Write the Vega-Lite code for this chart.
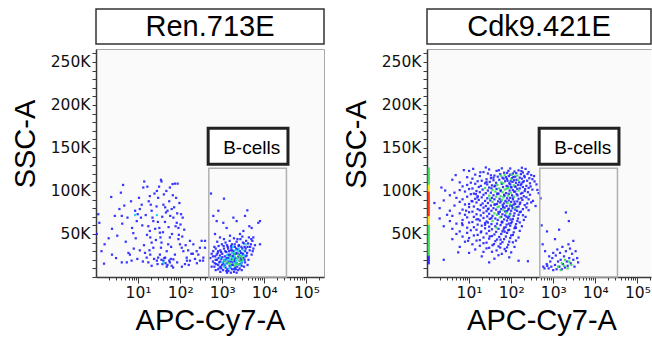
{
"$schema":"https://vega.github.io/schema/vega-lite/v6.json",
"padding":{"left":10,"top":8,"right":0,"bottom":0},
"background":"white",
"config":{"view":{"stroke":null},"axis":{"domainColor":"#3a3a3a","domainWidth":1.5,"tickColor":"#3a3a3a","tickWidth":1,"labelFont":"DejaVu Sans","labelFontSize":15.5,"labelColor":"#111111","titleFont":"Liberation Sans","titleFontSize":29,"titleFontWeight":"normal","titleColor":"#000000","grid":false,"labelOverlap":false,"labelFlush":false,"labelBound":false}},
"datasets":{
"gate":[{"x":480,"x2":33600,"y":0,"y2":126500}],
"gatebox":[{"x":463,"x2":36500,"y":131000,"y2":173000}],
"gatelabel":[{"x":5000,"y":150500,"label":"B-cells"}],
"ren":[
{"x":1.04,"y":50000,"d":0},{"x":1.13,"y":73000,"d":0},{"x":1.2,"y":63000,"d":0},{"x":2.3,"y":93000,"d":0},{"x":2.4,"y":56000,"d":0},{"x":2.4,"y":26000,"d":0},{"x":1.55,"y":15500,"d":0},{"x":3.6,"y":79000,"d":0},{"x":4.1,"y":71000,"d":0},{"x":4.2,"y":62000,"d":0},{"x":4.4,"y":107000,"d":0},{"x":5.1,"y":41000,"d":0},{"x":5.9,"y":28000,"d":0},{"x":6.4,"y":26000,"d":0},{"x":4.1,"y":17000,"d":0},{"x":5.4,"y":17000,"d":0},{"x":7.7,"y":51000,"d":0},{"x":8.5,"y":77000,"d":0},{"x":9.3,"y":65000,"d":0},{"x":9.8,"y":73000,"d":0},{"x":11,"y":79000,"d":0},{"x":11.7,"y":69000,"d":0},{"x":12.2,"y":84000,"d":0},{"x":13.3,"y":104000,"d":0},{"x":14,"y":111000,"d":0},{"x":16.6,"y":105000,"d":0},{"x":19,"y":94000,"d":0},{"x":20,"y":84000,"d":0},{"x":21,"y":77000,"d":0},{"x":22,"y":69000,"d":0},{"x":23,"y":65000,"d":0},{"x":17.5,"y":59000,"d":0},{"x":19,"y":53500,"d":0},{"x":19.5,"y":46000,"d":0},{"x":21,"y":40000,"d":0},{"x":23,"y":34000,"d":0},{"x":14.6,"y":28000,"d":0},{"x":16,"y":22500,"d":0},{"x":17.5,"y":17000,"d":0},{"x":21,"y":13000,"d":0},{"x":28,"y":19000,"d":0},{"x":30,"y":22500,"d":0},{"x":33,"y":26000,"d":0},{"x":35,"y":34000,"d":0},{"x":36,"y":40000,"d":0},{"x":34,"y":46000,"d":0},{"x":33,"y":51500,"d":0},{"x":32,"y":57000,"d":0},{"x":35,"y":113000,"d":0},{"x":36,"y":111000,"d":0},{"x":28,"y":100000,"d":0},{"x":30,"y":92000,"d":0},{"x":40,"y":84000,"d":0},{"x":44,"y":81000,"d":0},{"x":46,"y":75000,"d":0},{"x":50,"y":77000,"d":0},{"x":57,"y":104000,"d":0},{"x":66,"y":108000,"d":0},{"x":75,"y":108500,"d":0},{"x":87,"y":108500,"d":0},{"x":80,"y":92000,"d":0},{"x":63,"y":79000,"d":0},{"x":69,"y":69000,"d":0},{"x":83,"y":63000,"d":0},{"x":91,"y":57000,"d":0},{"x":105,"y":73000,"d":0},{"x":115,"y":69000,"d":0},{"x":91,"y":44000,"d":0},{"x":99,"y":38000,"d":0},{"x":109,"y":34000,"d":0},{"x":119,"y":30000,"d":0},{"x":75,"y":26000,"d":0},{"x":69,"y":20500,"d":0},{"x":57,"y":17000,"d":0},{"x":63,"y":13000,"d":0},{"x":44,"y":22500,"d":0},{"x":40,"y":19000,"d":0},{"x":48,"y":30000,"d":0},{"x":52,"y":38000,"d":0},{"x":57,"y":46000,"d":0},{"x":171,"y":42000,"d":0},{"x":206,"y":38000,"d":0},{"x":247,"y":30000,"d":0},{"x":270,"y":26000,"d":0},{"x":296,"y":19000,"d":0},{"x":356,"y":22500,"d":0},{"x":389,"y":34000,"d":0},{"x":324,"y":42000,"d":0},{"x":143,"y":22500,"d":0},{"x":171,"y":19000,"d":0},{"x":130,"y":15000,"d":0},{"x":45,"y":16000,"d":0},{"x":36,"y":20000,"d":0},{"x":50,"y":14000,"d":0},{"x":42,"y":22000,"d":0},{"x":55,"y":19000,"d":0},{"x":38,"y":15000,"d":0},{"x":48,"y":12000,"d":0},{"x":60,"y":21000,"d":0},{"x":200,"y":27000,"d":0},{"x":295,"y":34000,"d":0},{"x":350,"y":19000,"d":0},{"x":145,"y":19000,"d":0},{"x":250,"y":16000,"d":0},{"x":390,"y":42000,"d":0},{"x":8.5,"y":72000,"d":1},{"x":28,"y":72000,"d":1},{"x":40,"y":17000,"d":1},
{"x":1.6,"y":38000,"d":0},{"x":2.8,"y":71000,"d":0},{"x":3.2,"y":48000,"d":0},{"x":3.9,"y":98000,"d":0},{"x":4.7,"y":83000,"d":0},{"x":5.6,"y":69000,"d":0},{"x":6.8,"y":88000,"d":0},{"x":7.2,"y":57000,"d":0},{"x":7.9,"y":33000,"d":0},{"x":8.8,"y":45000,"d":0},{"x":9.6,"y":21000,"d":0},{"x":10.5,"y":92000,"d":0},{"x":12.6,"y":60000,"d":0},{"x":13.8,"y":37000,"d":0},{"x":15.2,"y":72000,"d":0},{"x":16.3,"y":49000,"d":0},{"x":17.9,"y":88000,"d":0},{"x":18.7,"y":31000,"d":0},{"x":24.5,"y":97000,"d":0},{"x":25.5,"y":56000,"d":0},{"x":26.5,"y":43000,"d":0},{"x":27.5,"y":82000,"d":0},{"x":29.5,"y":64000,"d":0},{"x":31.5,"y":105000,"d":0},{"x":37.5,"y":70000,"d":0},{"x":39,"y":52000,"d":0},{"x":41,"y":96000,"d":0},{"x":43.5,"y":64000,"d":0},{"x":47,"y":100000,"d":0},{"x":53,"y":58000,"d":0},{"x":55,"y":88000,"d":0},{"x":58,"y":71000,"d":0},{"x":61,"y":35000,"d":0},{"x":64,"y":50000,"d":0},{"x":67,"y":95000,"d":0},{"x":72,"y":81000,"d":0},{"x":78,"y":59000,"d":0},{"x":85,"y":74000,"d":0},{"x":93,"y":49000,"d":0},{"x":96,"y":86000,"d":0},{"x":102,"y":61000,"d":0},{"x":112,"y":47000,"d":0},{"x":125,"y":55000,"d":0},{"x":135,"y":37000,"d":0},{"x":155,"y":31000,"d":0},{"x":185,"y":27000,"d":0},{"x":225,"y":21000,"d":0},{"x":160,"y":14000,"d":0},{"x":110,"y":12000,"d":0},{"x":85,"y":17000,"d":0},{"x":68,"y":11000,"d":0},{"x":29,"y":15000,"d":0},{"x":24,"y":21000,"d":0},{"x":19.5,"y":26000,"d":0},{"x":13,"y":18000,"d":0},{"x":11,"y":31000,"d":0},{"x":7,"y":19000,"d":0},{"x":3,"y":22000,"d":0},{"x":2,"y":45000,"d":0},{"x":1.35,"y":30000,"d":0},
{"x":541,"y":97000,"d":0},{"x":1100,"y":91000,"d":0},{"x":614,"y":71000,"d":0},{"x":738,"y":65000,"d":0},{"x":808,"y":77000,"d":0},{"x":1060,"y":63000,"d":0},{"x":1270,"y":57000,"d":0},{"x":1840,"y":69000,"d":0},{"x":2200,"y":65000,"d":0},{"x":3480,"y":71000,"d":0},{"x":3950,"y":77500,"d":0},{"x":4400,"y":59000,"d":0},{"x":5000,"y":57000,"d":0},{"x":5480,"y":46000,"d":0},{"x":7200,"y":63000,"d":0},{"x":7900,"y":65000,"d":0},{"x":7900,"y":38000,"d":0},{"x":3180,"y":53500,"d":0},{"x":2640,"y":50000,"d":0},{"x":673,"y":50000,"d":0},{"x":885,"y":46000,"d":0},{"x":1530,"y":48000,"d":0},
{"x":520,"y":22000,"d":0},{"x":560,"y":27000,"d":0},{"x":600,"y":18000,"d":0},{"x":610,"y":30000,"d":0},{"x":650,"y":12000,"d":0},{"x":680,"y":24000,"d":0},{"x":700,"y":33000,"d":0},{"x":720,"y":15000,"d":0},{"x":750,"y":20000,"d":0},{"x":780,"y":28000,"d":0},{"x":800,"y":9000,"d":0},{"x":820,"y":36000,"d":0},{"x":850,"y":17000,"d":0},{"x":880,"y":25000,"d":0},{"x":900,"y":31000,"d":0},{"x":920,"y":12000,"d":0},{"x":950,"y":21000,"d":0},{"x":980,"y":38000,"d":0},{"x":1000,"y":14000,"d":0},{"x":1000,"y":27000,"d":0},{"x":1050,"y":8000,"d":0},{"x":1100,"y":33000,"d":0},{"x":1100,"y":19000,"d":0},{"x":1150,"y":24000,"d":0},{"x":1200,"y":11000,"d":0},{"x":1200,"y":40000,"d":0},{"x":1250,"y":29000,"d":0},{"x":1300,"y":16000,"d":0},{"x":1350,"y":35000,"d":0},{"x":1400,"y":7000,"d":0},{"x":1400,"y":22000,"d":0},{"x":1450,"y":30000,"d":0},{"x":1500,"y":13000,"d":0},{"x":1500,"y":42000,"d":0},{"x":1550,"y":26000,"d":0},{"x":1600,"y":18000,"d":0},{"x":1650,"y":34000,"d":0},{"x":1700,"y":9000,"d":0},{"x":1700,"y":38000,"d":0},{"x":1750,"y":24000,"d":0},{"x":1800,"y":14000,"d":0},{"x":1850,"y":30000,"d":0},{"x":1900,"y":45000,"d":0},{"x":1950,"y":20000,"d":0},{"x":2000,"y":11000,"d":0},{"x":2000,"y":35000,"d":0},{"x":2100,"y":27000,"d":0},{"x":2200,"y":16000,"d":0},{"x":2200,"y":41000,"d":0},{"x":2300,"y":32000,"d":0},{"x":2400,"y":8000,"d":0},{"x":2400,"y":23000,"d":0},{"x":2500,"y":37000,"d":0},{"x":2600,"y":19000,"d":0},{"x":2700,"y":44000,"d":0},{"x":2800,"y":28000,"d":0},{"x":2900,"y":13000,"d":0},{"x":3000,"y":33000,"d":0},{"x":3000,"y":47000,"d":0},{"x":3200,"y":22000,"d":0},{"x":3300,"y":39000,"d":0},{"x":3500,"y":17000,"d":0},{"x":3500,"y":30000,"d":0},{"x":3700,"y":42000,"d":0},{"x":3800,"y":25000,"d":0},{"x":4000,"y":35000,"d":0},{"x":4200,"y":20000,"d":0},{"x":4300,"y":46000,"d":0},{"x":4500,"y":31000,"d":0},{"x":4800,"y":38000,"d":0},{"x":5000,"y":26000,"d":0},{"x":5200,"y":42000,"d":0},{"x":5500,"y":33000,"d":0},{"x":6000,"y":37000,"d":0},{"x":650,"y":35000,"d":0},{"x":900,"y":6000,"d":0},{"x":1300,"y":5000,"d":0},{"x":1900,"y":6000,"d":0},{"x":2600,"y":10000,"d":0},{"x":3300,"y":12000,"d":0},{"x":4000,"y":14000,"d":0},{"x":1100,"y":44000,"d":0},{"x":760,"y":41000,"d":0},{"x":560,"y":12000,"d":0},{"x":700,"y":8000,"d":0},
{"x":1200,"y":20000,"d":0},{"x":1400,"y":26000,"d":0},{"x":1600,"y":31000,"d":0},{"x":1800,"y":24000,"d":0},{"x":2000,"y":18000,"d":0},{"x":2200,"y":28000,"d":0},{"x":2500,"y":26000,"d":0},{"x":2800,"y":20000,"d":0},{"x":3100,"y":27000,"d":0},{"x":3400,"y":35000,"d":0},{"x":900,"y":18000,"d":0},{"x":1000,"y":23000,"d":0},{"x":800,"y":14000,"d":0},{"x":1700,"y":14000,"d":0},{"x":2100,"y":9000,"d":0},{"x":2700,"y":15000,"d":0},{"x":3600,"y":24000,"d":0},{"x":1300,"y":37000,"d":0},{"x":2300,"y":44000,"d":0},
{"x":600,"y":24000,"d":0},{"x":660,"y":16000,"d":0},{"x":740,"y":26000,"d":0},{"x":820,"y":22000,"d":0},{"x":870,"y":11000,"d":0},{"x":940,"y":29000,"d":0},{"x":1050,"y":16000,"d":0},{"x":1080,"y":36000,"d":0},{"x":1150,"y":14000,"d":0},{"x":1180,"y":30000,"d":0},{"x":1280,"y":22000,"d":0},{"x":1320,"y":9000,"d":0},{"x":1380,"y":33000,"d":0},{"x":1420,"y":18000,"d":0},{"x":1480,"y":25000,"d":0},{"x":1560,"y":11000,"d":0},{"x":1620,"y":36000,"d":0},{"x":1680,"y":21000,"d":0},{"x":1720,"y":31000,"d":0},{"x":1780,"y":17000,"d":0},{"x":1880,"y":27000,"d":0},{"x":1920,"y":9000,"d":0},{"x":1980,"y":38000,"d":0},{"x":2050,"y":22000,"d":0},{"x":2150,"y":33000,"d":0},{"x":2250,"y":12000,"d":0},{"x":2350,"y":27000,"d":0},{"x":2450,"y":36000,"d":0},{"x":2550,"y":14000,"d":0},{"x":2650,"y":30000,"d":0},{"x":2750,"y":22000,"d":0},{"x":2850,"y":35000,"d":0},{"x":2950,"y":17000,"d":0},{"x":3100,"y":40000,"d":0},{"x":3150,"y":26000,"d":0},{"x":3400,"y":20000,"d":0},{"x":3600,"y":33000,"d":0},{"x":3900,"y":28000,"d":0},{"x":4100,"y":39000,"d":0},{"x":4600,"y":35000,"d":0},{"x":4900,"y":44000,"d":0},{"x":5300,"y":30000,"d":0},{"x":1250,"y":7000,"d":0},{"x":1600,"y":5000,"d":0},{"x":2200,"y":5000,"d":0},{"x":2900,"y":8000,"d":0},{"x":800,"y":30000,"d":0},{"x":700,"y":20000,"d":0},{"x":950,"y":10000,"d":0},
{"x":1000,"y":17000,"d":1},{"x":1200,"y":15000,"d":1},{"x":1300,"y":25000,"d":1},{"x":1500,"y":20000,"d":1},{"x":1600,"y":12000,"d":1},{"x":1700,"y":28000,"d":1},{"x":1900,"y":16000,"d":1},{"x":2000,"y":24000,"d":1},{"x":2200,"y":20000,"d":1},{"x":2400,"y":30000,"d":1},{"x":2600,"y":14000,"d":1},{"x":2800,"y":25000,"d":1},{"x":3000,"y":18000,"d":1},{"x":900,"y":22000,"d":1},{"x":1100,"y":12000,"d":1},{"x":2500,"y":33000,"d":1},{"x":3200,"y":31000,"d":1},{"x":1800,"y":35000,"d":1},{"x":3600,"y":38000,"d":1},{"x":1350,"y":20000,"d":1},{"x":1750,"y":22000,"d":1},{"x":2150,"y":18000,"d":1},{"x":2750,"y":17000,"d":1},{"x":1100,"y":20000,"d":1},{"x":1450,"y":10000,"d":1},{"x":3300,"y":25000,"d":1},{"x":2050,"y":31000,"d":1},
{"x":1400,"y":16000,"d":2},{"x":1800,"y":20000,"d":2},{"x":2100,"y":15000,"d":2},{"x":2300,"y":22000,"d":2},{"x":2600,"y":19000,"d":2},{"x":1600,"y":24000,"d":2},{"x":2000,"y":13000,"d":2},{"x":2900,"y":23000,"d":2},{"x":1200,"y":18000,"d":2},{"x":2400,"y":26000,"d":2},{"x":3100,"y":20000,"d":2},{"x":1550,"y":15000,"d":2},{"x":1950,"y":27000,"d":2},{"x":2350,"y":15000,"d":2},{"x":2650,"y":24000,"d":2}
],
"cdk":[
{"x":1.1,"y":126000,"d":2},{"x":1.1,"y":124000,"d":2},{"x":1.1,"y":122000,"d":2},{"x":1.1,"y":120000,"d":2},{"x":1.1,"y":118000,"d":2},{"x":1.1,"y":116000,"d":2},{"x":1.1,"y":114000,"d":2},{"x":1.1,"y":112000,"d":2},{"x":1.1,"y":110000,"d":2},{"x":1.1,"y":108000,"d":2},{"x":1.1,"y":106000,"d":3},{"x":1.1,"y":104000,"d":3},{"x":1.1,"y":102000,"d":3},{"x":1.1,"y":100000,"d":3},{"x":1.1,"y":98000,"d":4},{"x":1.1,"y":96000,"d":4},{"x":1.1,"y":94000,"d":4},{"x":1.1,"y":92000,"d":4},{"x":1.1,"y":90000,"d":4},{"x":1.1,"y":88000,"d":4},{"x":1.1,"y":86000,"d":4},{"x":1.1,"y":84000,"d":4},{"x":1.1,"y":82000,"d":4},{"x":1.1,"y":80000,"d":4},{"x":1.1,"y":78000,"d":4},{"x":1.1,"y":76000,"d":4},{"x":1.1,"y":74000,"d":4},{"x":1.1,"y":72000,"d":4},{"x":1.1,"y":70000,"d":3},{"x":1.1,"y":68000,"d":3},{"x":1.1,"y":66000,"d":3},{"x":1.1,"y":64000,"d":3},{"x":1.1,"y":62000,"d":3},{"x":1.1,"y":60000,"d":2},{"x":1.1,"y":58000,"d":2},{"x":1.1,"y":56000,"d":2},{"x":1.1,"y":54000,"d":2},{"x":1.1,"y":52000,"d":2},{"x":1.1,"y":50000,"d":2},{"x":1.1,"y":48000,"d":2},{"x":1.1,"y":46000,"d":2},{"x":1.1,"y":44000,"d":2},{"x":1.1,"y":42000,"d":2},{"x":1.1,"y":40000,"d":2},{"x":1.1,"y":38000,"d":2},{"x":1.1,"y":36000,"d":2},{"x":1.1,"y":34000,"d":2},{"x":1.1,"y":32000,"d":2},{"x":1.1,"y":30000,"d":2},{"x":1.1,"y":28000,"d":2},{"x":1.1,"y":26000,"d":2},{"x":1.1,"y":24000,"d":0},{"x":1.1,"y":22000,"d":0},{"x":1.1,"y":20000,"d":0},{"x":1.1,"y":18000,"d":0},{"x":1.1,"y":16000,"d":0},
{"x":18.5,"y":121700,"d":0},{"x":33,"y":118200,"d":0},{"x":51,"y":124100,"d":0},{"x":68,"y":121200,"d":0},{"x":86,"y":123400,"d":0},{"x":103,"y":118800,"d":2},{"x":132,"y":120700,"d":0},{"x":175,"y":123100,"d":0},{"x":205,"y":117600,"d":0},{"x":245,"y":119800,"d":0},{"x":320,"y":113700,"d":0},{"x":38,"y":115400,"d":0},{"x":57,"y":117800,"d":2},{"x":79,"y":114100,"d":0},{"x":97,"y":111300,"d":0},{"x":113,"y":116200,"d":0},{"x":148,"y":112600,"d":2},{"x":188,"y":110200,"d":0},{"x":26,"y":110400,"d":0},{"x":42,"y":106200,"d":0},{"x":65,"y":108900,"d":2},{"x":83,"y":105100,"d":0},{"x":128,"y":104700,"d":0},{"x":168,"y":106800,"d":0},{"x":215,"y":102200,"d":0},{"x":290,"y":105300,"d":0},{"x":34,"y":103100,"d":0},{"x":56,"y":100700,"d":0},{"x":77,"y":102500,"d":2},{"x":99,"y":104600,"d":0},{"x":118,"y":99100,"d":0},{"x":150,"y":100400,"d":2},{"x":185,"y":97800,"d":0},{"x":47,"y":97100,"d":0},{"x":69,"y":94200,"d":0},{"x":88,"y":96700,"d":0},{"x":112,"y":92400,"d":0},{"x":142,"y":94900,"d":0},{"x":175,"y":91800,"d":0},{"x":260,"y":90300,"d":0},{"x":31,"y":91100,"d":2},{"x":58,"y":88700,"d":0},{"x":78,"y":86800,"d":0},{"x":95,"y":84200,"d":2},{"x":120,"y":87600,"d":0},{"x":160,"y":84900,"d":0},{"x":40,"y":84100,"d":0},{"x":64,"y":81200,"d":0},{"x":85,"y":78400,"d":0},{"x":105,"y":82700,"d":0},{"x":125,"y":80300,"d":2},{"x":28,"y":78800,"d":0},{"x":50,"y":73300,"d":0},{"x":72,"y":76200,"d":0},{"x":92,"y":72100,"d":2},{"x":138,"y":76900,"d":0},{"x":34,"y":68400,"d":0},{"x":60,"y":64200,"d":0},{"x":78,"y":70100,"d":0},{"x":97,"y":66800,"d":0},{"x":24,"y":60700,"d":0},{"x":45,"y":57300,"d":2},{"x":66,"y":55100,"d":0},{"x":88,"y":61900,"d":0},{"x":31,"y":47200,"d":0},{"x":56,"y":43400,"d":0},{"x":70,"y":52600,"d":0},{"x":39,"y":38200,"d":0},{"x":75,"y":30100,"d":0},{"x":22,"y":29200,"d":0},{"x":110,"y":40300,"d":0},{"x":130,"y":57100,"d":0},{"x":160,"y":63400,"d":0},{"x":190,"y":71800,"d":0},{"x":230,"y":80900,"d":0},{"x":300,"y":86700,"d":0},{"x":420,"y":101200,"d":0},{"x":360,"y":111100,"d":0},{"x":270,"y":114800,"d":0},{"x":14.5,"y":96400,"d":0},{"x":11.5,"y":88300,"d":0},{"x":8.5,"y":77100,"d":0},{"x":6.8,"y":62400,"d":0},{"x":16.5,"y":67200,"d":0},{"x":19.5,"y":52900,"d":0},{"x":9.5,"y":42100,"d":0},{"x":5.5,"y":28600,"d":0},{"x":3,"y":72300,"d":0},{"x":2.7,"y":100500,"d":0},{"x":4.8,"y":118400,"d":0},{"x":7.5,"y":124200,"d":0},{"x":12.5,"y":125700,"d":0},{"x":25,"y":127300,"d":0},{"x":95,"y":126100,"d":0},{"x":180,"y":127000,"d":0},{"x":11,"y":109600,"d":0},{"x":15.8,"y":92600,"d":0},{"x":28,"y":63300,"d":0},{"x":55,"y":34200,"d":0},
{"x":30,"y":125000,"d":0},{"x":60,"y":126300,"d":0},{"x":150,"y":123900,"d":0},{"x":220,"y":125600,"d":0},
{"x":22,"y":122000,"d":0},{"x":45,"y":123300,"d":0},{"x":80,"y":120900,"d":0},{"x":120,"y":122600,"d":0},{"x":190,"y":121500,"d":0},{"x":260,"y":122000,"d":0},{"x":10,"y":123300,"d":0},
{"x":14,"y":119000,"d":0},{"x":28,"y":120300,"d":0},{"x":40,"y":117900,"d":0},{"x":55,"y":119600,"d":0},{"x":70,"y":118500,"d":2},{"x":95,"y":119000,"d":0},{"x":110,"y":120300,"d":0},{"x":140,"y":117900,"d":2},{"x":170,"y":119600,"d":0},{"x":300,"y":118500,"d":0},
{"x":9,"y":116000,"d":0},{"x":18,"y":117300,"d":0},{"x":33,"y":114900,"d":0},{"x":48,"y":116600,"d":0},{"x":62,"y":115500,"d":0},{"x":75,"y":116000,"d":0},{"x":88,"y":117300,"d":0},{"x":105,"y":114900,"d":0},{"x":125,"y":116600,"d":0},{"x":160,"y":115500,"d":0},{"x":210,"y":116000,"d":0},{"x":350,"y":117300,"d":0},
{"x":4,"y":113000,"d":0},{"x":12,"y":114300,"d":0},{"x":20,"y":111900,"d":0},{"x":26,"y":113600,"d":0},{"x":38,"y":112500,"d":0},{"x":52,"y":113000,"d":0},{"x":66,"y":114300,"d":0},{"x":82,"y":111900,"d":0},{"x":100,"y":113600,"d":2},{"x":118,"y":112500,"d":0},{"x":135,"y":113000,"d":0},{"x":180,"y":114300,"d":0},{"x":240,"y":111900,"d":0},
{"x":6,"y":110000,"d":0},{"x":16,"y":111300,"d":0},{"x":24,"y":108900,"d":0},{"x":31,"y":110600,"d":0},{"x":44,"y":109500,"d":0},{"x":58,"y":110000,"d":2},{"x":72,"y":111300,"d":0},{"x":90,"y":108900,"d":0},{"x":108,"y":110600,"d":0},{"x":130,"y":109500,"d":0},{"x":155,"y":110000,"d":0},{"x":200,"y":111300,"d":0},{"x":280,"y":108900,"d":0},
{"x":9,"y":107000,"d":0},{"x":14,"y":108300,"d":0},{"x":19,"y":105900,"d":0},{"x":27,"y":107600,"d":0},{"x":35,"y":106500,"d":0},{"x":47,"y":107000,"d":2},{"x":60,"y":108300,"d":0},{"x":78,"y":105900,"d":0},{"x":95,"y":107600,"d":0},{"x":115,"y":106500,"d":2},{"x":145,"y":107000,"d":0},{"x":175,"y":108300,"d":0},{"x":230,"y":105900,"d":0},{"x":400,"y":107600,"d":0},
{"x":2.2,"y":104000,"d":0},{"x":7,"y":105300,"d":0},{"x":12,"y":102900,"d":0},{"x":17,"y":104600,"d":0},{"x":24,"y":103500,"d":2},{"x":30,"y":104000,"d":0},{"x":40,"y":105300,"d":0},{"x":52,"y":102900,"d":2},{"x":64,"y":104600,"d":0},{"x":85,"y":103500,"d":2},{"x":102,"y":104000,"d":0},{"x":122,"y":105300,"d":0},{"x":160,"y":102900,"d":0},{"x":190,"y":104600,"d":0},{"x":260,"y":103500,"d":0},
{"x":6,"y":101000,"d":0},{"x":10,"y":102300,"d":0},{"x":15,"y":99900,"d":0},{"x":21,"y":101600,"d":0},{"x":28,"y":100500,"d":0},{"x":36,"y":101000,"d":2},{"x":45,"y":102300,"d":0},{"x":57,"y":99900,"d":0},{"x":70,"y":101600,"d":2},{"x":92,"y":100500,"d":0},{"x":110,"y":101000,"d":0},{"x":140,"y":102300,"d":0},{"x":210,"y":99900,"d":0},{"x":320,"y":101600,"d":0},
{"x":4.5,"y":98000,"d":0},{"x":8,"y":99300,"d":0},{"x":13,"y":96900,"d":0},{"x":18,"y":98600,"d":0},{"x":25,"y":97500,"d":0},{"x":33,"y":98000,"d":0},{"x":42,"y":99300,"d":2},{"x":50,"y":96900,"d":0},{"x":62,"y":98600,"d":2},{"x":76,"y":97500,"d":0},{"x":98,"y":98000,"d":2},{"x":125,"y":99300,"d":0},{"x":170,"y":96900,"d":0},{"x":250,"y":98600,"d":0},{"x":450,"y":97500,"d":0},
{"x":3.5,"y":95000,"d":0},{"x":11,"y":96300,"d":0},{"x":16,"y":93900,"d":0},{"x":22,"y":95600,"d":0},{"x":30,"y":94500,"d":2},{"x":38,"y":95000,"d":0},{"x":47,"y":96300,"d":0},{"x":56,"y":93900,"d":2},{"x":68,"y":95600,"d":0},{"x":84,"y":94500,"d":2},{"x":105,"y":95000,"d":0},{"x":135,"y":96300,"d":0},{"x":200,"y":93900,"d":0},{"x":280,"y":95600,"d":0},
{"x":5,"y":92000,"d":0},{"x":9,"y":93300,"d":0},{"x":14,"y":90900,"d":0},{"x":20,"y":92600,"d":0},{"x":27,"y":91500,"d":0},{"x":35,"y":92000,"d":0},{"x":44,"y":93300,"d":2},{"x":53,"y":90900,"d":0},{"x":65,"y":92600,"d":2},{"x":80,"y":91500,"d":0},{"x":95,"y":92000,"d":0},{"x":118,"y":93300,"d":2},{"x":150,"y":90900,"d":0},{"x":230,"y":92600,"d":0},{"x":500,"y":91500,"d":0},
{"x":2.5,"y":89000,"d":0},{"x":7,"y":90300,"d":0},{"x":12,"y":87900,"d":0},{"x":17,"y":89600,"d":0},{"x":24,"y":88500,"d":0},{"x":32,"y":89000,"d":0},{"x":40,"y":90300,"d":0},{"x":49,"y":87900,"d":0},{"x":60,"y":89600,"d":2},{"x":73,"y":88500,"d":0},{"x":88,"y":89000,"d":0},{"x":110,"y":90300,"d":0},{"x":140,"y":87900,"d":0},{"x":185,"y":89600,"d":0},{"x":330,"y":88500,"d":0},
{"x":1.5,"y":86000,"d":0},{"x":6,"y":87300,"d":0},{"x":10,"y":84900,"d":0},{"x":15,"y":86600,"d":0},{"x":21,"y":85500,"d":0},{"x":28,"y":86000,"d":0},{"x":36,"y":87300,"d":2},{"x":46,"y":84900,"d":0},{"x":55,"y":86600,"d":0},{"x":67,"y":85500,"d":0},{"x":82,"y":86000,"d":2},{"x":100,"y":87300,"d":0},{"x":125,"y":84900,"d":0},{"x":165,"y":86600,"d":0},{"x":240,"y":85500,"d":0},
{"x":4.5,"y":83000,"d":0},{"x":8,"y":84300,"d":0},{"x":13,"y":81900,"d":0},{"x":19,"y":83600,"d":0},{"x":25,"y":82500,"d":0},{"x":33,"y":83000,"d":0},{"x":42,"y":84300,"d":0},{"x":52,"y":81900,"d":2},{"x":63,"y":83600,"d":0},{"x":78,"y":82500,"d":0},{"x":94,"y":83000,"d":0},{"x":115,"y":84300,"d":0},{"x":150,"y":81900,"d":0},{"x":210,"y":83600,"d":0},{"x":380,"y":82500,"d":0},
{"x":2,"y":80000,"d":0},{"x":10,"y":81300,"d":0},{"x":16,"y":78900,"d":0},{"x":22,"y":80600,"d":0},{"x":29,"y":79500,"d":0},{"x":38,"y":80000,"d":0},{"x":48,"y":81300,"d":2},{"x":58,"y":78900,"d":0},{"x":70,"y":80600,"d":0},{"x":88,"y":79500,"d":0},{"x":108,"y":80000,"d":0},{"x":135,"y":81300,"d":0},{"x":190,"y":78900,"d":0},
{"x":3.5,"y":77000,"d":0},{"x":7,"y":78300,"d":0},{"x":12,"y":75900,"d":0},{"x":18,"y":77600,"d":0},{"x":26,"y":76500,"d":0},{"x":34,"y":77000,"d":0},{"x":44,"y":78300,"d":0},{"x":54,"y":75900,"d":0},{"x":66,"y":77600,"d":2},{"x":80,"y":76500,"d":0},{"x":100,"y":77000,"d":0},{"x":125,"y":78300,"d":0},{"x":170,"y":75900,"d":0},{"x":260,"y":77600,"d":0},
{"x":6,"y":74000,"d":0},{"x":10,"y":75300,"d":0},{"x":15,"y":72900,"d":0},{"x":22,"y":74600,"d":0},{"x":30,"y":73500,"d":0},{"x":40,"y":74000,"d":2},{"x":50,"y":75300,"d":0},{"x":62,"y":72900,"d":0},{"x":76,"y":74600,"d":2},{"x":95,"y":73500,"d":0},{"x":120,"y":74000,"d":0},{"x":160,"y":75300,"d":0},
{"x":4,"y":71000,"d":0},{"x":8,"y":72300,"d":0},{"x":13,"y":69900,"d":0},{"x":19,"y":71600,"d":0},{"x":27,"y":70500,"d":0},{"x":36,"y":71000,"d":0},{"x":46,"y":72300,"d":2},{"x":58,"y":69900,"d":0},{"x":72,"y":71600,"d":0},{"x":90,"y":70500,"d":0},{"x":115,"y":71000,"d":0},{"x":150,"y":72300,"d":0},{"x":220,"y":69900,"d":0},
{"x":2,"y":68000,"d":0},{"x":9,"y":69300,"d":0},{"x":15,"y":66900,"d":0},{"x":22,"y":68600,"d":0},{"x":31,"y":67500,"d":0},{"x":42,"y":68000,"d":0},{"x":54,"y":69300,"d":2},{"x":68,"y":66900,"d":0},{"x":85,"y":68600,"d":0},{"x":110,"y":67500,"d":0},{"x":145,"y":68000,"d":0},
{"x":3.5,"y":65000,"d":0},{"x":7,"y":66300,"d":0},{"x":12,"y":63900,"d":0},{"x":18,"y":65600,"d":0},{"x":26,"y":64500,"d":0},{"x":36,"y":65000,"d":2},{"x":48,"y":66300,"d":0},{"x":62,"y":63900,"d":0},{"x":80,"y":65600,"d":0},{"x":105,"y":64500,"d":0},{"x":140,"y":65000,"d":0},{"x":200,"y":66300,"d":0},
{"x":5,"y":62000,"d":0},{"x":10,"y":63300,"d":0},{"x":16,"y":60900,"d":0},{"x":24,"y":62600,"d":0},{"x":34,"y":61500,"d":0},{"x":46,"y":62000,"d":0},{"x":60,"y":63300,"d":0},{"x":78,"y":60900,"d":0},{"x":100,"y":62600,"d":0},{"x":130,"y":61500,"d":0},
{"x":2.5,"y":59000,"d":0},{"x":7,"y":60300,"d":0},{"x":13,"y":57900,"d":0},{"x":20,"y":59600,"d":0},{"x":30,"y":58500,"d":0},{"x":42,"y":59000,"d":0},{"x":56,"y":60300,"d":0},{"x":74,"y":57900,"d":0},{"x":95,"y":59600,"d":0},{"x":125,"y":58500,"d":0},{"x":180,"y":59000,"d":0},
{"x":4,"y":56000,"d":0},{"x":9,"y":57300,"d":0},{"x":15,"y":54900,"d":0},{"x":24,"y":56600,"d":0},{"x":35,"y":55500,"d":0},{"x":50,"y":56000,"d":0},{"x":68,"y":57300,"d":0},{"x":90,"y":54900,"d":0},{"x":120,"y":56600,"d":0},
{"x":6,"y":53000,"d":0},{"x":11,"y":54300,"d":0},{"x":19,"y":51900,"d":0},{"x":30,"y":53600,"d":0},{"x":44,"y":52500,"d":0},{"x":62,"y":53000,"d":0},{"x":85,"y":54300,"d":0},{"x":115,"y":51900,"d":0},{"x":160,"y":53600,"d":0},
{"x":5,"y":50000,"d":0},{"x":9,"y":51300,"d":0},{"x":16,"y":48900,"d":0},{"x":26,"y":50600,"d":0},{"x":40,"y":49500,"d":0},{"x":58,"y":50000,"d":0},{"x":80,"y":51300,"d":0},{"x":110,"y":48900,"d":0},
{"x":7,"y":47000,"d":0},{"x":13,"y":48300,"d":0},{"x":22,"y":45900,"d":0},{"x":35,"y":47600,"d":0},{"x":52,"y":46500,"d":0},{"x":75,"y":47000,"d":0},{"x":100,"y":48300,"d":0},{"x":150,"y":45900,"d":0},
{"x":4,"y":44000,"d":0},{"x":10,"y":45300,"d":0},{"x":18,"y":42900,"d":0},{"x":30,"y":44600,"d":0},{"x":46,"y":43500,"d":0},{"x":68,"y":44000,"d":0},{"x":95,"y":45300,"d":0},
{"x":8,"y":41000,"d":0},{"x":15,"y":42300,"d":0},{"x":26,"y":39900,"d":0},{"x":42,"y":41600,"d":0},{"x":62,"y":40500,"d":0},{"x":90,"y":41000,"d":0},{"x":130,"y":42300,"d":0},
{"x":12,"y":38000,"d":0},{"x":22,"y":39300,"d":0},{"x":36,"y":36900,"d":0},{"x":56,"y":38600,"d":0},{"x":85,"y":37500,"d":0},
{"x":6,"y":35000,"d":0},{"x":18,"y":36300,"d":0},{"x":30,"y":33900,"d":0},{"x":50,"y":35600,"d":0},{"x":80,"y":34500,"d":0},{"x":120,"y":35000,"d":0},
{"x":14,"y":32000,"d":0},{"x":26,"y":33300,"d":0},{"x":45,"y":30900,"d":0},{"x":70,"y":32600,"d":0},
{"x":10,"y":28000,"d":0},{"x":35,"y":29300,"d":0},{"x":60,"y":26900,"d":0},{"x":100,"y":28600,"d":0},
{"x":20,"y":24000,"d":0},{"x":50,"y":25300,"d":0},{"x":90,"y":22900,"d":0},
{"x":2.5,"y":20000,"d":0},{"x":40,"y":21300,"d":0},{"x":150,"y":18900,"d":0},
{"x":30,"y":17000,"d":0},{"x":250,"y":18300,"d":0},
{"x":530,"y":60000,"d":0},{"x":560,"y":38000,"d":0},{"x":640,"y":30000,"d":0},
{"x":2000,"y":75000,"d":0},{"x":710,"y":53000,"d":0},{"x":2350,"y":65000,"d":0},{"x":1380,"y":55000,"d":0},{"x":1100,"y":44000,"d":0},{"x":3000,"y":42000,"d":0},
{"x":700,"y":15000,"d":0},{"x":780,"y":10000,"d":0},{"x":850,"y":18000,"d":0},{"x":900,"y":12000,"d":0},{"x":950,"y":22000,"d":0},{"x":1000,"y":8000,"d":0},{"x":1100,"y":14000,"d":0},{"x":1150,"y":25000,"d":0},{"x":1200,"y":9000,"d":0},{"x":1300,"y":18000,"d":0},{"x":1400,"y":12000,"d":0},{"x":1450,"y":28000,"d":0},{"x":1500,"y":20000,"d":0},{"x":1600,"y":9000,"d":0},{"x":1700,"y":15000,"d":0},{"x":1800,"y":24000,"d":0},{"x":1900,"y":11000,"d":0},{"x":2000,"y":30000,"d":0},{"x":2100,"y":18000,"d":0},{"x":2200,"y":13000,"d":0},{"x":2400,"y":22000,"d":0},{"x":2500,"y":33000,"d":0},{"x":2600,"y":16000,"d":0},{"x":2800,"y":27000,"d":0},{"x":3000,"y":20000,"d":0},{"x":3200,"y":12000,"d":0},{"x":3400,"y":30000,"d":0},{"x":3700,"y":22000,"d":0},{"x":3900,"y":17000,"d":0},{"x":1250,"y":32000,"d":0},{"x":1650,"y":35000,"d":0},{"x":2300,"y":38000,"d":0},{"x":1000,"y":28000,"d":0},{"x":800,"y":24000,"d":0},{"x":580,"y":12000,"d":0},{"x":620,"y":10000,"d":0},{"x":720,"y":13000,"d":0},
{"x":1300,"y":12000,"d":2},{"x":1600,"y":16000,"d":2},{"x":1900,"y":20000,"d":2},{"x":2200,"y":10000,"d":2},{"x":2400,"y":18000,"d":2},{"x":1500,"y":8000,"d":2},{"x":2700,"y":14000,"d":2},{"x":1800,"y":13000,"d":2}
]
},
"hconcat":[
{"vconcat":[
{"width":228,"height":35,"view":{"stroke":"#333333","strokeWidth":1.5,"fill":"white"},"data":{"values":[{"sample":"Ren.713E"}]},"mark":{"type":"text","font":"Liberation Sans","fontSize":29,"color":"#000000"},"encoding":{"text":{"field":"sample","type":"nominal"}}},
{"width":228,"height":228,"view":{"stroke":"#a8a8a8","strokeWidth":1,"fill":"#fafafa"},
"encoding":{
"x":{"field":"x","type":"quantitative","scale":{"type":"log","domain":[1,262144],"nice":false},"axis":{"title":"APC-Cy7-A","values":[2,3,4,5,6,7,8,9,10,20,30,40,50,60,70,80,90,100,200,300,400,500,600,700,800,900,1000,2000,3000,4000,5000,6000,7000,8000,9000,10000,20000,30000,40000,50000,60000,70000,80000,90000,100000,200000],"labelExpr":"datum.value == 10 ? '10¹' : datum.value == 100 ? '10²' : datum.value == 1000 ? '10³' : datum.value == 10000 ? '10⁴' : datum.value == 100000 ? '10⁵' : ''","tickSize":{"condition":{"test":"indexof([10,100,1000,10000,100000], datum.value) >= 0","value":6},"value":3},"labelPadding":2,"titlePadding":6}},
"y":{"field":"y","type":"quantitative","scale":{"domain":[0,265000],"nice":false,"zero":false},"axis":{"title":"SSC-A","values":[0,10000,20000,30000,40000,50000,60000,70000,80000,90000,100000,110000,120000,130000,140000,150000,160000,170000,180000,190000,200000,210000,220000,230000,240000,250000,260000],"labelExpr":"datum.value > 0 && datum.value % 50000 == 0 ? (datum.value/1000) + 'K' : ''","tickSize":4,"labelPadding":2,"titlePadding":10,"titleY":94.5}}
},
"layer":[
{"data":{"name":"ren"},"mark":{"type":"square","size":5,"opacity":0.9,"clip":true,"strokeWidth":0},"encoding":{"color":{"field":"d","type":"ordinal","scale":{"domain":[0,1,2,3,4],"range":["#2020ff","#10d8f0","#30e050","#ffe000","#ff2a00"]},"legend":null},"order":{"field":"d","type":"quantitative"}}},
{"data":{"name":"gate"},"mark":{"type":"rect","filled":false,"stroke":"#b0b0b0","strokeWidth":1.5},"encoding":{"x2":{"field":"x2"},"y2":{"field":"y2"}}},
{"data":{"name":"gatebox"},"mark":{"type":"rect","fill":"white","stroke":"#222222","strokeWidth":3},"encoding":{"x2":{"field":"x2"},"y2":{"field":"y2"}}},
{"data":{"name":"gatelabel"},"mark":{"type":"text","font":"Liberation Sans","fontSize":19,"color":"#000000"},"encoding":{"text":{"field":"label","type":"nominal"}}}
]}
],"spacing":5,"bounds":"flush"},
{"vconcat":[
{"width":224,"height":35,"view":{"stroke":"#333333","strokeWidth":1.5,"fill":"white"},"data":{"values":[{"sample":"Cdk9.421E"}]},"mark":{"type":"text","font":"Liberation Sans","fontSize":29,"color":"#000000"},"encoding":{"text":{"field":"sample","type":"nominal"}}},
{"width":224,"height":228,"view":{"stroke":null,"fill":"#fafafa"},
"layer":[
{"encoding":{
"x":{"field":"x","type":"quantitative","scale":{"type":"log","domain":[1,210500],"nice":false},"axis":{"title":"APC-Cy7-A","values":[2,3,4,5,6,7,8,9,10,20,30,40,50,60,70,80,90,100,200,300,400,500,600,700,800,900,1000,2000,3000,4000,5000,6000,7000,8000,9000,10000,20000,30000,40000,50000,60000,70000,80000,90000,100000,200000],"labelExpr":"datum.value == 10 ? '10¹' : datum.value == 100 ? '10²' : datum.value == 1000 ? '10³' : datum.value == 10000 ? '10⁴' : datum.value == 100000 ? '10⁵' : ''","tickSize":{"condition":{"test":"indexof([10,100,1000,10000,100000], datum.value) >= 0","value":6},"value":3},"labelPadding":2,"titlePadding":6,"titleX":114.5}},
"y":{"field":"y","type":"quantitative","scale":{"domain":[0,265000],"nice":false,"zero":false},"axis":{"title":"SSC-A","values":[0,10000,20000,30000,40000,50000,60000,70000,80000,90000,100000,110000,120000,130000,140000,150000,160000,170000,180000,190000,200000,210000,220000,230000,240000,250000,260000],"labelExpr":"datum.value > 0 && datum.value % 50000 == 0 ? (datum.value/1000) + 'K' : ''","tickSize":4,"labelPadding":2,"titlePadding":10,"titleY":95}}
},
"layer":[
{"data":{"name":"cdk"},"mark":{"type":"square","size":5,"opacity":0.9,"clip":true,"strokeWidth":0},"encoding":{"color":{"field":"d","type":"ordinal","scale":{"domain":[0,1,2,3,4],"range":["#2020ff","#10d8f0","#30e050","#ffe000","#ff2a00"]},"legend":null},"order":{"field":"d","type":"quantitative"}}},
{"data":{"name":"gate"},"mark":{"type":"rect","filled":false,"stroke":"#b0b0b0","strokeWidth":1.5},"encoding":{"x2":{"field":"x2"},"y2":{"field":"y2"}}},
{"data":{"name":"gatebox"},"mark":{"type":"rect","fill":"white","stroke":"#222222","strokeWidth":3},"encoding":{"x2":{"field":"x2"},"y2":{"field":"y2"}}},
{"data":{"name":"gatelabel"},"mark":{"type":"text","font":"Liberation Sans","fontSize":19,"color":"#000000"},"encoding":{"text":{"field":"label","type":"nominal"}}}
]},
{"data":{"name":"gate"},"mark":{"type":"rule","opacity":0},"encoding":{"x":{"field":"x","type":"quantitative","scale":{"type":"log","domain":[1,210500],"nice":false},"axis":{"orient":"top","ticks":false,"labels":false,"title":null,"domainColor":"#a8a8a8","domainWidth":1}}}}
],
"resolve":{"axis":{"x":"independent"}}}
],"spacing":5,"bounds":"flush"}
],
"spacing":17
}
